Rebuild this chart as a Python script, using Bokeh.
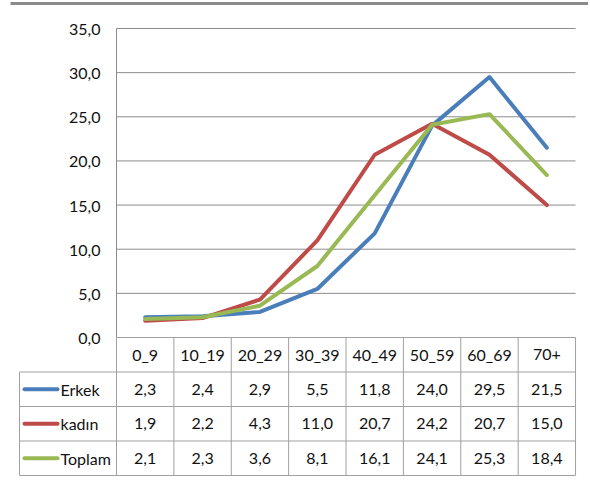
from bokeh.plotting import figure
from bokeh.models import ColumnDataSource, Range1d
from bokeh.core.properties import value
from bokeh.embed import file_html
from bokeh.resources import INLINE

# ---- data ----
categories = ["0_9", "10_19", "20_29", "30_39", "40_49", "50_59", "60_69", "70+"]
series_names = ["Erkek", "kadın", "Toplam"]
erkek = [2.3, 2.4, 2.9, 5.5, 11.8, 24.0, 29.5, 21.5]
kadin = [1.9, 2.2, 4.3, 11.0, 20.7, 24.2, 20.7, 15.0]
toplam = [2.1, 2.3, 3.6, 8.1, 16.1, 24.1, 25.3, 18.4]
y_ticks = [0, 5, 10, 15, 20, 25, 30, 35]
y_tick_labels = ["0,0", "5,0", "10,0", "15,0", "20,0", "25,0", "30,0", "35,0"]

series_values = [erkek, kadin, toplam]
colors = ["#4A7EBB", "#BE4B48", "#98B954"]

FONT = "Lato"
FS = "16px"
GRID = "#8c8c8c"
BORDER = "#a0a0a0"
TXT = "#111111"

W, H = 588, 480
# layout (units per pixel)
px_x = 57.38
px_y = 309 / 35.0
x_start = -0.5 - 116 / px_x
x_end = x_start + W / px_x
y_end = 35 + 28 / px_y
y_start = y_end - H / px_y
row_h = 34.5 / px_y
label_left = -0.5 - 97 / px_x
n = len(categories)
xs = list(range(n))

p = figure(width=W, height=H, output_backend="svg", toolbar_location=None,
           x_range=Range1d(x_start, x_end), y_range=Range1d(y_start, y_end),
           x_axis_type=None, y_axis_type=None,
           min_border_left=0, min_border_right=0, min_border_top=0, min_border_bottom=0)
p.outline_line_color = None
p.xgrid.visible = False
p.ygrid.visible = False
p.background_fill_color = "white"
p.border_fill_color = "white"

# top decorative line
p.segment(x0=[x_start + 10 / px_x], x1=[x_end], y0=[y_end - 3 / px_y], y1=[y_end - 3 / px_y],
          line_color="#8a8a8a", line_width=3)

# gridlines
grid_ys = [t for t in y_ticks if t > 0]
p.segment(x0=[-0.5] * len(grid_ys), x1=[n - 0.5] * len(grid_ys), y0=grid_ys, y1=grid_ys,
          line_color=GRID, line_width=1)
# y axis line
p.segment(x0=[-0.5], x1=[-0.5], y0=[0], y1=[35], line_color=GRID, line_width=1)

# y tick labels
p.text(x=[-0.5] * len(y_ticks), y=y_ticks, text=y_tick_labels, x_offset=-16, y_offset=1,
       text_align="right", text_baseline="middle", text_font=value(FONT),
       text_font_size=FS, text_color=TXT)

# table borders
n_rows = len(series_names) + 1
p.segment(x0=[-0.5], x1=[n - 0.5], y0=[0], y1=[0], line_color=BORDER, line_width=1)
hy = [-row_h * k for k in range(1, n_rows + 1)]
p.segment(x0=[label_left] * len(hy), x1=[n - 0.5] * len(hy), y0=hy, y1=hy,
          line_color=BORDER, line_width=1)
vx = [i - 0.5 for i in range(n + 1)]
p.segment(x0=vx, x1=vx, y0=[0] * len(vx), y1=[-row_h * n_rows] * len(vx),
          line_color=BORDER, line_width=1)
p.segment(x0=[label_left], x1=[label_left], y0=[-row_h], y1=[-row_h * n_rows],
          line_color=BORDER, line_width=1)

# header
p.text(x=xs, y=[-row_h / 2] * n, text=categories, text_align="center",
       text_baseline="middle", text_font=value(FONT), text_font_size=FS,
       text_color=TXT)

# lines + table rows
key_x0 = -0.5 - 92 / px_x
key_x1 = -0.5 - 59 / px_x
txt_x = -0.5 - 56 / px_x
for r, (name, vals, col) in enumerate(zip(series_names, series_values, colors)):
    src = ColumnDataSource(dict(x=xs, y=vals))
    p.line("x", "y", source=src, line_color=col, line_width=4,
           line_join="round", line_cap="round")
    yc = -row_h * (r + 1.5)
    p.segment(x0=[key_x0], x1=[key_x1], y0=[yc], y1=[yc], line_color=col,
              line_width=4, line_cap="round")
    p.text(x=[txt_x], y=[yc], text=[name], text_align="left", text_baseline="middle",
           text_font=value(FONT), text_font_size=FS, text_color=TXT)
    labels = [f"{v:.1f}".replace(".", ",") for v in vals]
    p.text(x=xs, y=[yc] * n, text=labels, text_align="center", text_baseline="middle",
           text_font=value(FONT), text_font_size=FS, text_color=TXT)

open("out.html", "w").write(file_html(p, INLINE))
